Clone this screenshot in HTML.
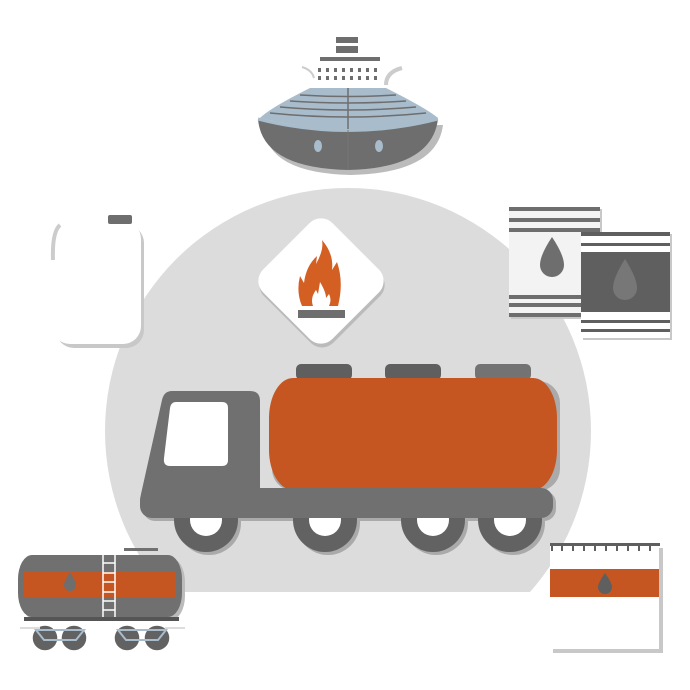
<!DOCTYPE html>
<html><head><meta charset="utf-8"><style>html,body{margin:0;padding:0;background:#fff}svg{display:block}</style></head>
<body>
<svg width="690" height="690" viewBox="0 0 690 690" xmlns="http://www.w3.org/2000/svg">
<defs><clipPath id="cc"><rect x="0" y="0" width="690" height="592"/></clipPath>
<clipPath id="wc"><rect x="0" y="518" width="690" height="60"/></clipPath></defs>
<circle cx="348" cy="431" r="243" fill="#dcdcdc" clip-path="url(#cc)"/>

<!-- ship -->
<g>
<rect x="336" y="37" width="22" height="16" fill="#6e6e6e"/><rect x="336" y="43" width="22" height="3" fill="#fff"/>
<rect x="320" y="57" width="60" height="4" fill="#6e6e6e"/>
<g fill="#6e6e6e"><rect x="318" y="68" width="3" height="4"/><rect x="326" y="68" width="3" height="4"/><rect x="334" y="68" width="3" height="4"/><rect x="342" y="68" width="3" height="4"/><rect x="350" y="68" width="3" height="4"/><rect x="358" y="68" width="3" height="4"/><rect x="366" y="68" width="3" height="4"/><rect x="374" y="68" width="3" height="4"/>
<rect x="318" y="76" width="3" height="4"/><rect x="326" y="76" width="3" height="4"/><rect x="334" y="76" width="3" height="4"/><rect x="342" y="76" width="3" height="4"/><rect x="350" y="76" width="3" height="4"/><rect x="358" y="76" width="3" height="4"/><rect x="366" y="76" width="3" height="4"/><rect x="374" y="76" width="3" height="4"/></g>
<path d="M386 85 Q386 72 402 68" stroke="#ccc" stroke-width="4" fill="none"/>
<path d="M302 67 Q312 70 314 78" stroke="#ccc" stroke-width="2" fill="none"/>
<path d="M261 122 Q262 170 348 172 Q434 170 440 122 Z" fill="#bbb" transform="translate(3,3)"/>
<path d="M260 118 Q270 108 310 88 L386 88 Q426 108 438 118 Q348 140 260 118 Z" fill="#a8bccb"/>
<g stroke="#6e6e6e" stroke-width="1.5" fill="none"><path d="M300 95 Q348 98 396 95"/><path d="M290 101 Q348 105 406 101"/><path d="M280 107 Q348 113 416 107"/><path d="M270 113 Q348 121 426 113"/><line x1="348" y1="88" x2="348" y2="129"/></g>
<path d="M258 119 Q262 168 348 170 Q432 168 438 119 Q348 142 258 119 Z" fill="#6e6e6e"/>
<path d="M258 119 Q348 142 438 119" stroke="#a8bccb" stroke-width="3" fill="none"/>
<line x1="348" y1="130" x2="348" y2="170" stroke="#777" stroke-width="1"/>
<ellipse cx="318" cy="146" rx="4" ry="6" fill="#a8bccb"/><ellipse cx="379" cy="146" rx="4" ry="6" fill="#a8bccb"/>
</g>

<!-- canister -->
<rect x="56" y="225" width="88" height="123" rx="18" fill="#c8c8c8"/>
<rect x="52" y="221" width="89" height="123" rx="18" fill="#fff"/>
<rect x="108" y="215" width="24" height="9" rx="2" fill="#6e6e6e"/>
<path d="M60 225 Q52 232 53 260" stroke="#ccc" stroke-width="4" fill="none"/>

<!-- barrels -->
<g>
<rect x="511" y="209" width="91" height="110" fill="#c8c8c8"/>
<rect x="509" y="207" width="91" height="110" fill="#f3f3f3"/>
<g fill="#6e6e6e"><rect x="509" y="207" width="91" height="4"/><rect x="509" y="218" width="91" height="4"/><rect x="509" y="228" width="91" height="4"/><rect x="509" y="295" width="91" height="4"/><rect x="509" y="303" width="91" height="4"/><rect x="509" y="313" width="91" height="4"/></g>
<path d="M552 237 Q540 255 540 265 A12 12 0 0 0 564 265 Q564 255 552 237Z" fill="#6e6e6e"/>
<rect x="583" y="234" width="89" height="106" fill="#c8c8c8"/>
<rect x="581" y="232" width="89" height="106" fill="#fff"/>
<g fill="#5f5f5f"><rect x="581" y="232" width="89" height="4"/><rect x="581" y="243" width="89" height="3"/><rect x="581" y="252" width="89" height="60"/><rect x="581" y="320" width="89" height="3"/><rect x="581" y="329" width="89" height="3"/></g>
<path d="M625 259 Q613 278 613 288 A12 12 0 0 0 637 288 Q637 278 625 259Z" fill="#777"/>
</g>

<!-- diamond -->
<rect x="273" y="233" width="98" height="98" rx="16" fill="#bbb" transform="rotate(45 322 282) translate(2,2)"/>
<rect x="272" y="232" width="98" height="98" rx="16" fill="#fff" transform="rotate(45 321 281)"/>
<path d="M302 306 Q296 292 300 276 L304 283 Q306 266 317 256 L316 264 Q324 250 322 240 Q334 254 332 270 L337 262 Q344 282 338 306 Z" fill="#d45f23"/>
<path d="M313 306 Q310 298 316 290 L318 294 L320 282 Q326 292 326 298 L329 294 Q332 300 329 306 Z" fill="#fff"/>
<rect x="298" y="310" width="47" height="8" fill="#6e6e6e"/>

<!-- truck -->
<g>
<g fill="#aaa" transform="translate(3,3)"><rect x="269" y="378" width="288" height="110" rx="22"/><rect x="140" y="488" width="413" height="30" rx="12"/></g>
<rect x="296" y="364" width="56" height="16" rx="5" fill="#5f5f5f"/>
<rect x="385" y="364" width="56" height="16" rx="5" fill="#5f5f5f"/>
<rect x="475" y="364" width="56" height="16" rx="5" fill="#737373"/>
<rect x="269" y="378" width="288" height="112" rx="24" ry="40" fill="#c55622"/>
<path d="M172 391 L250 391 Q260 391 260 401 L260 490 L142 500 Q140 500 141 494 L162 400 Q164 391 172 391Z" fill="#707070"/>
<path d="M176 402 L222 402 Q228 402 228 408 L228 460 Q228 466 222 466 L170 466 Q163 466 164 458 L170 408 Q171 402 176 402Z" fill="#fff"/>
<g clip-path="url(#wc)">
<g fill="#aaa"><circle cx="209" cy="523" r="32"/><circle cx="328" cy="523" r="32"/><circle cx="436" cy="523" r="32"/><circle cx="513" cy="523" r="32"/></g>
<g fill="#626262"><circle cx="206" cy="520" r="32"/><circle cx="325" cy="520" r="32"/><circle cx="433" cy="520" r="32"/><circle cx="510" cy="520" r="32"/></g>
<g fill="#fff"><circle cx="206" cy="520" r="16"/><circle cx="325" cy="520" r="16"/><circle cx="433" cy="520" r="16"/><circle cx="510" cy="520" r="16"/></g>
</g>
<rect x="140" y="488" width="413" height="30" rx="12" fill="#707070"/>
</g>

<!-- train -->
<g>
<rect x="21" y="558" width="164" height="62" rx="14" ry="24" fill="#bbb"/>
<rect x="18" y="555" width="164" height="62" rx="14" ry="24" fill="#707070"/>
<rect x="124" y="548" width="34" height="3" fill="#707070"/>
<rect x="24" y="571" width="152" height="26" fill="#c55622"/>
<path d="M70 572 Q64 582 64 585 A6 6 0 0 0 76 585 Q76 582 70 572Z" fill="#6e6e6e"/>
<g stroke="#fff" stroke-width="1.5"><line x1="103" y1="555" x2="103" y2="617"/><line x1="115" y1="555" x2="115" y2="617"/>
<line x1="103" y1="563" x2="115" y2="563"/><line x1="103" y1="573" x2="115" y2="573"/><line x1="103" y1="582" x2="115" y2="582"/><line x1="103" y1="592" x2="115" y2="592"/><line x1="103" y1="601" x2="115" y2="601"/><line x1="103" y1="610" x2="115" y2="610"/></g>
<rect x="24" y="617" width="155" height="4" fill="#555"/>
<g fill="#626262" stroke="#fff" stroke-width="1.5"><circle cx="45" cy="638" r="13"/><circle cx="74" cy="638" r="13"/><circle cx="127" cy="638" r="13"/><circle cx="157" cy="638" r="13"/></g>
<g stroke="#a8bccb" stroke-width="2" fill="none"><path d="M36 630 L84 630 L76 640 L44 640Z"/><path d="M118 630 L166 630 L158 640 L126 640Z"/></g>
<line x1="20" y1="628" x2="40" y2="628" stroke="#ddd" stroke-width="2"/><line x1="165" y1="628" x2="185" y2="628" stroke="#ddd" stroke-width="2"/>
</g>

<!-- notepad -->
<g>
<rect x="553" y="548" width="110" height="105" fill="#c8c8c8"/>
<rect x="550" y="545" width="109" height="104" fill="#fff"/>
<rect x="550" y="543" width="110" height="3" fill="#5f5f5f"/>
<g fill="#5f5f5f"><rect x="551" y="546" width="2" height="5"/><rect x="561" y="546" width="2" height="5"/><rect x="572" y="546" width="2" height="5"/><rect x="583" y="546" width="2" height="5"/><rect x="594" y="546" width="2" height="5"/><rect x="605" y="546" width="2" height="5"/><rect x="616" y="546" width="2" height="5"/><rect x="627" y="546" width="2" height="5"/><rect x="638" y="546" width="2" height="5"/><rect x="649" y="546" width="2" height="5"/></g>
<rect x="550" y="569" width="109" height="28" fill="#c55622"/>
<path d="M605 573 Q598 583 598 587 A7 7 0 0 0 612 587 Q612 583 605 573Z" fill="#5f5f5f"/>
</g>
</svg>
</body></html>
